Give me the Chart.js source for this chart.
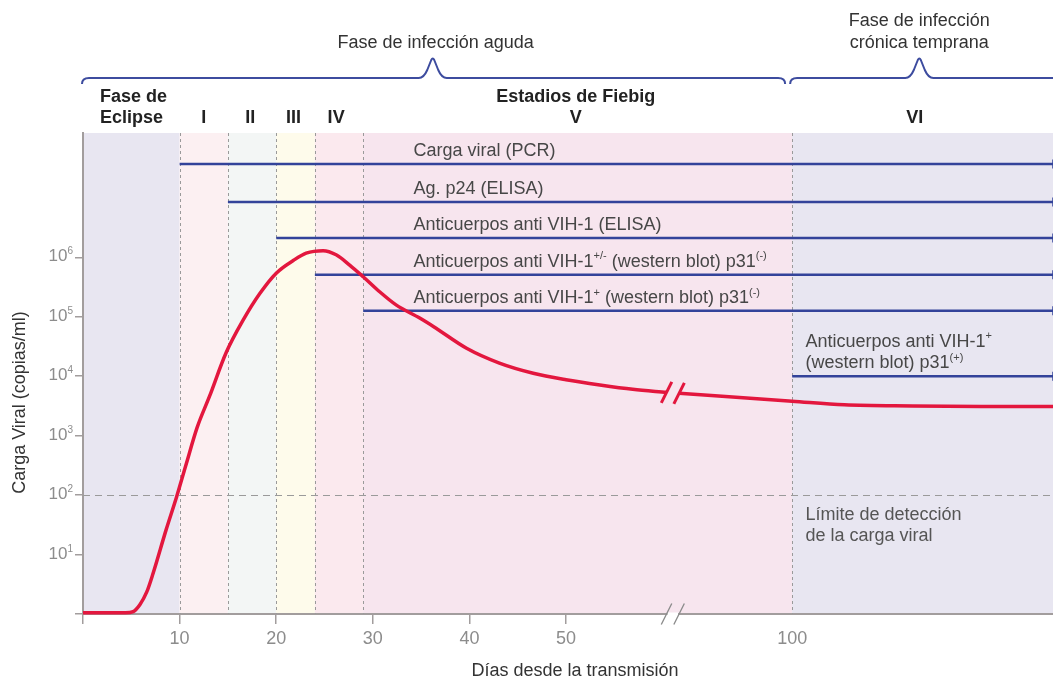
<!DOCTYPE html>
<html>
<head>
<meta charset="utf-8">
<script src="https://cdn.jsdelivr.net/npm/chart.js@4.4.1/dist/chart.umd.min.js"></script>
<style>
  html, body { margin: 0; padding: 0; background: #ffffff; }
  #wrap { width: 1053px; height: 682px; position: relative; }
</style>
</head>
<body>
<div id="wrap"><canvas id="chart"></canvas></div>
<script>
// Viral load (copies/ml) in the first two months after transmission
const curveDaysEarly = [0, 2, 4.4, 5.2, 5.9, 6.6, 7.25, 8.6, 9.7, 10.7, 11.8, 13.1, 14.8, 16.6, 18.3,
  20.0, 21.8, 23.1, 24.85, 26.2, 27.6, 29.0, 30.7, 32.4, 34.85, 36.3, 39.7, 43.1, 46.6, 50.0, 53.5, 56.9, 60.4];
const curveLoadEarly = [1.05, 1.05, 1.05, 1.1, 1.45, 2.35, 4.8, 26, 95, 340, 1350, 4600, 24500, 89000, 245000,
  540000, 890000, 1170000, 1290000, 1100000, 740000, 470000, 263000, 158000, 95000, 68000, 29500, 16600, 11200, 8700, 7100, 6000, 5350];

// Viral load after the axis break (early chronic phase)
const curveDaysLate = [88.3, 100, 116, 137, 158, 180];
const curveLoadLate = [5150, 3800, 3300, 3160, 3100, 3090];

// Diagnostic markers: first day each test turns positive and the row it is drawn on
const markerStartDays = [10, 15, 20, 24, 29, 100];
const markerRows = [3.7e7, 8.5e6, 2.1e6, 5.1e5, 1.26e5, 1.0e4];
const markerLabels = [
  [[['Carga viral (PCR)']]],
  [[['Ag. p24 (ELISA)']]],
  [[['Anticuerpos anti VIH-1 (ELISA)']]],
  [[['Anticuerpos anti VIH-1'], ['+/-', true], [' (western blot) p31'], ['(-)', true]]],
  [[['Anticuerpos anti VIH-1'], ['+', true], [' (western blot) p31'], ['(-)', true]]],
  [[['Anticuerpos anti VIH-1'], ['+', true]], [['(western blot) p31'], ['(+)', true]]]
];
const markerLabelDays = [34.2, 34.2, 34.2, 34.2, 34.2, 104.1];

// Fiebig stages
const stageBounds = [0, 10, 15, 20, 24, 29, 100, 180];
const stageNames = ['', 'I', 'II', 'III', 'IV', 'V', 'VI'];
const stageLabelDays = [0, 12.5, 17.3, 21.8, 26.2, 51, 137.6];
const stageColors = ['#e8e6f1', '#fcf0f2', '#f3f6f5', '#fefbeb', '#fbe9ee', '#f7e5ee', '#e8e6f1'];

const DETECTION_LIMIT = 100;
const END_DAY = 180;

// Axis ticks
const xTickDays = [0, 10, 20, 30, 40, 50, 100];
const xTickLabels = ['', '10', '20', '30', '40', '50', '100'];
const yTickExponents = [1, 2, 3, 4, 5, 6];

// Broken time axis: linear up to day 61, days 87.6-100 after the break, compressed beyond day 100
function toAxis(d) {
  if (d <= 61) return d;
  if (d < 87.6) return 61;
  if (d <= 100) return d - 26.6;
  return 73.4 + (d - 100) * 0.3375;
}

const FONT = '"Liberation Sans", Arial, Helvetica, sans-serif';
const font = (size, bold) => (bold ? 'bold ' : '') + size + 'px ' + FONT;
const RED = '#e3173e';
const BLUE = '#33439a';
const AXIS = '#a29d9d';

// Text with superscript runs: parts = [[text, isSup], ...]
function drawRich(ctx, parts, x, y, size, color, align) {
  const supSize = Math.round(size * 0.6);
  let w = 0;
  parts.forEach(p => { ctx.font = font(p[1] ? supSize : size); w += ctx.measureText(p[0]).width; });
  let cx = align === 'center' ? x - w / 2 : align === 'right' ? x - w : x;
  ctx.fillStyle = color;
  ctx.textAlign = 'left';
  ctx.textBaseline = 'alphabetic';
  parts.forEach(p => {
    ctx.font = font(p[1] ? supSize : size);
    ctx.fillText(p[0], cx, p[1] ? y - size * 0.4 : y);
    cx += ctx.measureText(p[0]).width;
  });
}

function drawBrace(ctx, x1, x2, xp, yB) {
  ctx.beginPath();
  ctx.moveTo(x1, yB + 6);
  ctx.quadraticCurveTo(x1, yB, x1 + 7, yB);
  ctx.lineTo(xp - 14, yB);
  ctx.quadraticCurveTo(xp - 9, yB, xp - 5.5, yB - 8);
  ctx.lineTo(xp - 1.5, yB - 18);
  ctx.quadraticCurveTo(xp, yB - 21, xp + 1.5, yB - 18);
  ctx.lineTo(xp + 5.5, yB - 8);
  ctx.quadraticCurveTo(xp + 9, yB, xp + 14, yB);
  ctx.lineTo(x2 - 7, yB);
  ctx.quadraticCurveTo(x2, yB, x2, yB + 6);
  ctx.stroke();
}

function slash(ctx, x, y, half, color, width) {
  ctx.strokeStyle = color;
  ctx.lineWidth = width;
  ctx.beginPath();
  ctx.moveTo(x - half * 0.5, y + half);
  ctx.lineTo(x + half * 0.5, y - half);
  ctx.stroke();
}

const fiebigPlugin = {
  id: 'fiebig',
  beforeDraw(chart) {
    const { ctx, chartArea: a, scales: { x } } = chart;
    ctx.save();
    for (let i = 0; i < stageColors.length; i++) {
      const x1 = x.getPixelForValue(toAxis(stageBounds[i]));
      const x2 = x.getPixelForValue(toAxis(stageBounds[i + 1]));
      ctx.fillStyle = stageColors[i];
      ctx.fillRect(x1, a.top, x2 - x1, a.bottom - a.top);
    }
    ctx.restore();
  },
  beforeDatasetsDraw(chart) {
    const { ctx, chartArea: a, scales: { x, y } } = chart;
    ctx.save();
    ctx.strokeStyle = '#9a9a9a';
    ctx.lineWidth = 1;
    ctx.setLineDash([3, 3]);
    for (let i = 1; i <= 6; i++) {
      const px = Math.round(x.getPixelForValue(toAxis(stageBounds[i]))) + 0.5;
      ctx.beginPath();
      ctx.moveTo(px, a.top);
      ctx.lineTo(px, a.bottom);
      ctx.stroke();
    }
    ctx.setLineDash([7, 5]);
    const ly = Math.round(y.getPixelForValue(DETECTION_LIMIT)) + 0.5;
    ctx.beginPath();
    ctx.moveTo(a.left, ly);
    ctx.lineTo(a.right, ly);
    ctx.stroke();
    ctx.restore();
  },
  afterDatasetsDraw(chart) {
    const { ctx, chartArea: a, scales: { x, y } } = chart;
    ctx.save();
    // marker captions
    markerLabels.forEach((lines, i) => {
      const lx = x.getPixelForValue(toAxis(markerLabelDays[i]));
      const ly = y.getPixelForValue(markerRows[i]);
      lines.forEach((parts, j) => {
        const off = (lines.length - 1 - j) * 21.5 + 8;
        drawRich(ctx, parts, lx, ly - off, 18, '#474747', 'left');
      });
    });
    // detection limit caption
    const dx = x.getPixelForValue(toAxis(104.1));
    const dy = y.getPixelForValue(DETECTION_LIMIT);
    drawRich(ctx, [['Límite de detección']], dx, dy + 25, 18, '#555555', 'left');
    drawRich(ctx, [['de la carga viral']], dx, dy + 45.5, 18, '#555555', 'left');

    // break marks on the curve
    const n = curveDaysEarly.length - 1;
    const bx1 = x.getPixelForValue(toAxis(curveDaysEarly[n]));
    const by1 = y.getPixelForValue(curveLoadEarly[n]);
    const bx2 = x.getPixelForValue(toAxis(curveDaysLate[0]));
    const by2 = y.getPixelForValue(curveLoadLate[0]);
    ctx.lineCap = 'butt';
    slash(ctx, bx1, by1, 10.5, RED, 3);
    slash(ctx, bx2, by2, 10.5, RED, 3);

    // break marks on the time axis
    ctx.fillStyle = '#ffffff';
    ctx.fillRect(bx1 + 1, a.bottom - 1.5, bx2 - bx1 - 2, 3);
    slash(ctx, bx1, a.bottom, 10.5, '#8a8a8a', 1.3);
    slash(ctx, bx2, a.bottom, 10.5, '#8a8a8a', 1.3);
    ctx.restore();
  },
  afterDraw(chart) {
    const { ctx, chartArea: a, scales: { x, y } } = chart;
    const px = d => x.getPixelForValue(toAxis(d));
    ctx.save();

    // y tick labels 10^n
    yTickExponents.forEach(e => {
      const ty = y.getPixelForValue(Math.pow(10, e));
      drawRich(ctx, [['10'], [String(e), true]], a.left - 10, ty + 4, 17, '#8c8c8c', 'right');
    });

    // axis titles
    ctx.fillStyle = '#333333';
    ctx.font = font(18);
    ctx.textAlign = 'center';
    ctx.textBaseline = 'alphabetic';
    ctx.fillText('Días desde la transmisión', (a.left + a.right) / 2 + 7, 676);
    ctx.save();
    ctx.translate(25, (a.top + a.bottom) / 2 + 29);
    ctx.rotate(-Math.PI / 2);
    ctx.fillText('Carga Viral (copias/ml)', 0, 0);
    ctx.restore();

    // stage headers
    ctx.fillStyle = '#222222';
    ctx.font = font(18, true);
    ctx.textAlign = 'left';
    ctx.fillText('Fase de', px(0) + 17, 102);
    ctx.fillText('Eclipse', px(0) + 17, 123);
    ctx.textAlign = 'center';
    for (let i = 1; i < stageNames.length; i++) {
      ctx.fillText(stageNames[i], px(stageLabelDays[i]), 123);
    }
    ctx.fillText('Estadios de Fiebig', px(stageLabelDays[5]), 102);

    // phase braces
    ctx.strokeStyle = '#3d4c9f';
    ctx.lineWidth = 2;
    ctx.lineJoin = 'round';
    drawBrace(ctx, px(0) - 1, px(100) - 7, px(36.2), 78);
    drawBrace(ctx, px(100) - 2, a.right + 20, px(139), 78);

    ctx.fillStyle = '#333333';
    ctx.font = font(18);
    ctx.textAlign = 'center';
    ctx.fillText('Fase de infección aguda', px(36.5), 48);
    ctx.fillText('Fase de infección', px(139), 26);
    ctx.fillText('crónica temprana', px(139), 48);
    ctx.restore();
  }
};

const markerSets = markerStartDays.map((d, i) => ({
  data: [{ x: toAxis(d), y: markerRows[i] }, { x: toAxis(END_DAY), y: markerRows[i] }],
  borderColor: BLUE,
  borderWidth: 2.5,
  pointRadius: [0, 4.5],
  pointStyle: 'line',
  rotation: 90,
  pointBorderColor: BLUE,
  pointBorderWidth: 1.5,
  clip: false,
  order: 2
}));

const curveSet = (days, loads) => ({
  data: days.map((d, i) => ({ x: toAxis(d), y: loads[i] })),
  borderColor: RED,
  borderWidth: 3.5,
  pointRadius: 0,
  cubicInterpolationMode: 'monotone',
  borderCapStyle: 'butt',
  clip: 4,
  order: 1
});

new Chart(document.getElementById('chart'), {
  type: 'line',
  data: {
    datasets: [
      ...markerSets,
      curveSet(curveDaysEarly, curveLoadEarly),
      curveSet(curveDaysLate, curveLoadLate)
    ]
  },
  options: {
    responsive: true,
    maintainAspectRatio: false,
    animation: false,
    events: [],
    layout: { autoPadding: false, padding: { top: 133, left: 0, right: 0, bottom: 0 } },
    plugins: { legend: { display: false }, tooltip: { enabled: false } },
    scales: {
      x: {
        type: 'linear',
        min: 0,
        max: toAxis(END_DAY),
        afterBuildTicks: s => { s.ticks = xTickDays.map(d => ({ value: toAxis(d) })); },
        afterFit: s => { s.height = 68; s.paddingLeft = 0; s.paddingRight = 0; },
        ticks: {
          autoSkip: false,
          maxRotation: 0,
          padding: 4,
          color: '#8c8c8c',
          font: { family: FONT, size: 18 },
          callback: (v, i) => xTickLabels[i]
        },
        grid: {
          drawOnChartArea: false,
          tickLength: 10,
          lineWidth: 1.5,
          color: c => (c.tick && c.tick.value > 70 ? 'rgba(0,0,0,0)' : AXIS)
        },
        border: { color: AXIS, width: 2 }
      },
      y: {
        type: 'logarithmic',
        min: 1,
        max: 1.23e8,
        afterBuildTicks: s => { s.ticks = [0, ...yTickExponents].map(e => ({ value: Math.pow(10, e) })); },
        afterFit: s => { s.width = 83; s.paddingTop = 0; s.paddingBottom = 0; },
        ticks: { display: false },
        grid: { drawOnChartArea: false, tickLength: 8, lineWidth: 1.5, color: AXIS },
        border: { color: AXIS, width: 2 }
      }
    }
  },
  plugins: [fiebigPlugin]
});
</script>
</body>
</html>
